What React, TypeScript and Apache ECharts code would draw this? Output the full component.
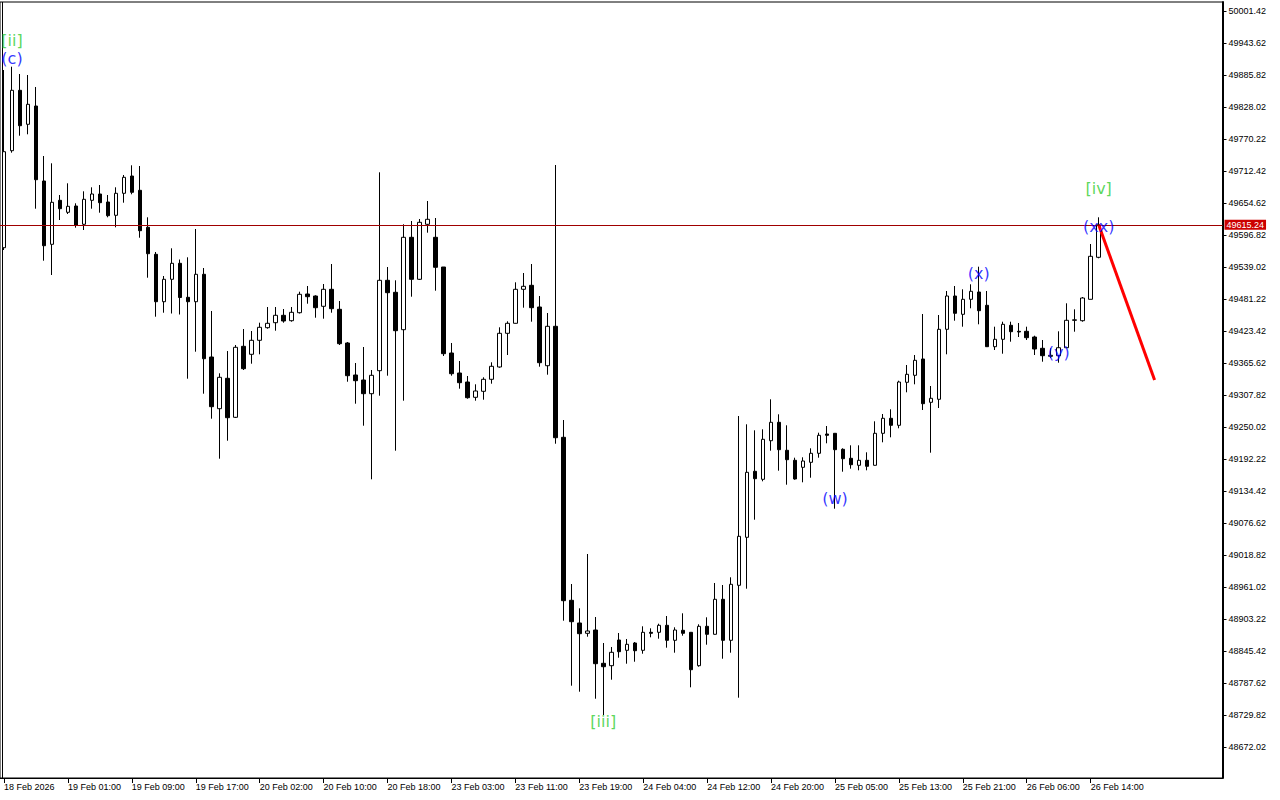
import React, { useEffect, useRef } from "react";
import * as echarts from "echarts";

// Hourly bars, oldest first: open, close, low, high
const OPEN = [
  49573.88, 49749.09, 49858.19, 49796.77, 49829.83, 49694.36, 49580.02, 49659.5, 49637.82, 49649.2,
  49616.15, 49659.5, 49670.88, 49656.43, 49632.4, 49672.14, 49703.39, 49677.56, 49610.73, 49561.96,
  49476.34, 49516.8, 49545.7, 49484.29, 49476.34, 49525.84, 49376.46, 49283.08, 49337.99, 49267.54,
  49395.79, 49381.34, 49406.62, 49429.38, 49438.41, 49451.78, 49442.03, 49456.47, 49490.25, 49486.64,
  49468.04, 49498.74, 49462.62, 49401.75, 49343.95, 49334.91, 49310.17, 49351.71, 49515.0, 49493.32,
  49425.77, 49592.67, 49516.8, 49616.15, 49592.67, 49539.02, 49383.68, 49347.56, 49331.3, 49303.67,
  49314.5, 49336.18, 49358.4, 49419.26, 49437.33, 49498.74, 49505.97, 49466.77, 49360.74, 49431.91,
  49231.42, 48937.0, 48896.0, 48877.39, 48883.35, 48823.2, 48818.87, 48865.29, 48846.68, 48859.87,
  48846.68, 48879.2, 48879.2, 48891.84, 48864.75, 48882.81, 48879.2, 48818.87, 48890.04, 48875.59,
  48938.8, 48864.75, 48964.09, 49050.79, 49170.01, 49155.55, 49225.27, 49258.51, 49207.94, 49189.87,
  49177.23, 49186.26, 49202.52, 49237.38, 49238.64, 49209.74, 49193.49, 49180.84, 49189.87, 49180.84,
  49238.64, 49265.74, 49253.09, 49330.76, 49343.4, 49372.85, 49294.64, 49300.05, 49426.49, 49486.64,
  49453.59, 49480.68, 49493.86, 49469.84, 49395.06, 49408.43, 49433.72, 49422.88, 49422.88, 49412.58,
  49392.17, 49377.72, 49378.81, 49393.25, 49442.75, 49442.03, 49480.68, 49556.54,
];
const CLOSE = [
  49747.28, 49858.19, 49794.24, 49832.9, 49696.71, 49577.49, 49655.89, 49644.33, 49648.66, 49614.88,
  49661.3, 49670.88, 49655.16, 49631.68, 49672.14, 49701.04, 49673.95, 49604.59, 49563.04, 49476.34,
  49516.8, 49545.7, 49483.93, 49476.34, 49525.84, 49373.39, 49286.69, 49339.79, 49266.82, 49393.98,
  49355.33, 49406.62, 49430.1, 49437.33, 49451.78, 49441.48, 49457.2, 49489.71, 49485.38, 49465.51,
  49498.74, 49463.7, 49400.48, 49342.68, 49333.65, 49310.17, 49343.4, 49515.0, 49492.6, 49423.96,
  49592.67, 49516.8, 49619.76, 49625.18, 49538.48, 49382.42, 49346.29, 49330.04, 49302.94, 49315.05,
  49336.18, 49359.66, 49419.26, 49437.33, 49498.74, 49504.16, 49465.51, 49366.16, 49431.91, 49230.69,
  48936.28, 48898.35, 48876.67, 48881.55, 48822.48, 48817.06, 48843.07, 48844.16, 48857.52, 48845.96,
  48879.2, 48877.39, 48891.84, 48864.75, 48883.35, 48877.39, 48811.64, 48890.04, 48875.59, 48938.8,
  48864.75, 48965.9, 49052.6, 49168.2, 49156.64, 49227.8, 49258.51, 49209.02, 49190.96, 49156.1,
  49188.61, 49202.52, 49235.03, 49235.03, 49209.02, 49192.76, 49181.93, 49189.87, 49179.04, 49238.64,
  49265.74, 49253.09, 49331.3, 49345.21, 49370.5, 49292.11, 49301.86, 49426.49, 49486.64, 49455.39,
  49480.68, 49495.13, 49460.09, 49395.06, 49408.43, 49435.52, 49422.16, 49421.61, 49411.32, 49390.91,
  49378.81, 49379.53, 49393.25, 49442.75, 49443.65, 49483.03, 49558.35, 49615.24,
];
const LOW = [
  49569.73, 49745.48, 49776.18, 49778.71, 49644.33, 49550.4, 49524.57, 49623.91, 49634.75, 49610.01,
  49605.85, 49644.33, 49637.1, 49628.79, 49610.73, 49655.16, 49670.34, 49591.94, 49519.69, 49449.25,
  49456.47, 49455.03, 49453.22, 49337.26, 49386.03, 49310.17, 49265.01, 49192.76, 49225.27, 49266.28,
  49352.98, 49364.36, 49381.34, 49427.58, 49423.96, 49438.41, 49440.22, 49455.03, 49472.73, 49447.44,
  49445.64, 49456.47, 49398.13, 49331.84, 49292.11, 49252.37, 49155.55, 49306.56, 49342.68, 49207.21,
  49297.53, 49485.38, 49515.54, 49600.98, 49496.21, 49378.26, 49342.68, 49319.2, 49301.14, 49297.53,
  49299.33, 49328.23, 49357.13, 49380.07, 49436.97, 49465.51, 49440.22, 49358.94, 49344.49, 49219.85,
  48900.15, 48782.75, 48771.91, 48871.25, 48759.26, 48729.82, 48793.58, 48833.32, 48822.48, 48826.09,
  48840.54, 48870.17, 48867.65, 48851.38, 48842.35, 48873.06, 48779.85, 48817.06, 48856.8, 48875.2,
  48831.51, 48842.35, 48761.07, 48957.95, 49082.58, 49151.94, 49207.21, 49171.09, 49145.8, 49154.83,
  49150.14, 49158.44, 49194.57, 49220.58, 49102.45, 49169.28, 49174.7, 49171.81, 49171.81, 49180.5,
  49222.39, 49231.42, 49247.68, 49312.7, 49327.14, 49280.73, 49203.6, 49284.34, 49381.34, 49442.03,
  49431.19, 49464.42, 49435.52, 49394.52, 49389.1, 49382.42, 49404.1, 49412.58, 49407.16, 49380.07,
  49367.97, 49374.65, 49366.16, 49393.25, 49422.16, 49440.22, 49480.68, 49554.74,
];
const HIGH = [
  49894.85, 49900.81, 49887.63, 49885.82, 49864.15, 49739.51, 49726.33, 49669.07, 49690.2, 49654.08,
  49675.75, 49682.98, 49687.13, 49669.07, 49682.98, 49705.2, 49722.72, 49721.45, 49628.79, 49566.11,
  49522.76, 49572.8, 49552.57, 49556.54, 49607.66, 49537.21, 49459.55, 49347.02, 49387.22, 49398.13,
  49427.03, 49423.42, 49438.41, 49466.77, 49466.77, 49463.16, 49466.77, 49494.41, 49504.7, 49487.9,
  49508.31, 49544.44, 49477.61, 49403.55, 49365.62, 49394.52, 49352.98, 49710.07, 49539.02, 49515.0,
  49616.15, 49622.11, 49625.72, 49658.23, 49627.53, 49539.02, 49401.75, 49369.23, 49342.14, 49327.14,
  49339.79, 49366.89, 49430.1, 49440.94, 49511.39, 49528.18, 49544.44, 49486.64, 49455.93, 49723.26,
  49262.66, 48966.44, 48922.55, 49020.63, 48906.83, 48859.87, 48852.65, 48877.93, 48867.1, 48861.68,
  48890.04, 48886.43, 48894.73, 48908.64, 48888.23, 48913.52, 48879.2, 48893.65, 48906.29, 48968.25,
  48964.63, 48978.54, 49269.89, 49254.9, 49244.06, 49245.87, 49300.05, 49272.96, 49253.09, 49194.57,
  49195.29, 49211.55, 49239.73, 49251.83, 49238.64, 49211.55, 49216.97, 49216.97, 49204.33, 49260.32,
  49273.5, 49281.99, 49333.65, 49362.01, 49380.07, 49454.13, 49324.08, 49452.32, 49495.67, 49504.7,
  49498.74, 49507.77, 49539.56, 49495.67, 49431.19, 49440.22, 49440.22, 49437.87, 49431.19, 49414.93,
  49407.16, 49392.17, 49422.88, 49473.45, 49462.62, 49484.83, 49580.56, 49628.79,
];

// Time scale: one label every 8 bars
const TIME_LABELS = [
  "18 Feb 2026", "19 Feb 01:00", "19 Feb 09:00", "19 Feb 17:00", "20 Feb 02:00", "20 Feb 10:00",
  "20 Feb 18:00", "23 Feb 03:00", "23 Feb 11:00", "23 Feb 19:00", "24 Feb 04:00", "24 Feb 12:00",
  "24 Feb 20:00", "25 Feb 05:00", "25 Feb 13:00", "25 Feb 21:00", "26 Feb 06:00", "26 Feb 14:00",
];
const LABEL_STEP = 8;
const SLOT_COUNT = 153; // bar slots including the empty area on the right

// Price scale
const PRICE_TICKS = [
  48672.02, 48729.82, 48787.62, 48845.42, 48903.22, 48961.02, 49018.82, 49076.62, 49134.42, 49192.22,
  49250.02, 49307.82, 49365.62, 49423.42, 49481.22, 49539.02, 49596.82, 49654.62, 49712.42, 49770.22,
  49828.02, 49885.82, 49943.62, 50001.42,
];
const PRICE_MIN = 48616.03;
const PRICE_MAX = 50017.68;
const BID = 49615.24;

// Elliott wave marks
const WAVE_TEXT = ["[ii]", "(c)", "[iii]", "(w)", "(x)", "(y)", "(xx)", "[iv]"];
const WAVE_BAR = [1, 1, 75, 104, 122, 132, 137, 137];
const WAVE_PRICE = [49948.8, 49916.5, 48717.2, 49120.0, 49526.4, 49383.7, 49611.3, 49681.7];
const WAVE_MINOR = [true, false, true, false, false, false, false, true];

// Projected move
const PROJ_BAR = [137, 144];
const PROJ_PRICE = [49615.24, 49334.9];

const MINOR_COLOR = "#32cd32";
const MINUTE_COLOR = "#0000ff";
const AXIS_FONT = "Liberation Sans, Arial, sans-serif";

const categories = Array.from({ length: SLOT_COUNT }, (_, i) =>
  i % LABEL_STEP === 0 && TIME_LABELS[i / LABEL_STEP] ? TIME_LABELS[i / LABEL_STEP] : `bar${i}`
);
const hasTimeLabel = (i: number) => i % LABEL_STEP === 0 && i / LABEL_STEP < TIME_LABELS.length;

export default function App() {
  const ref = useRef<HTMLDivElement>(null);

  useEffect(() => {
    if (!ref.current) return;
    const chart = echarts.init(ref.current, undefined, { renderer: "svg" });

    const candles = OPEN.map((o, i) => [o, CLOSE[i], LOW[i], HIGH[i]]);
    const waves = WAVE_BAR.map((b, i) => ({
      value: [b, WAVE_PRICE[i]],
      label: { color: WAVE_MINOR[i] ? MINOR_COLOR : MINUTE_COLOR },
    }));
    const projection = PROJ_BAR.map((b, i) => [b, PROJ_PRICE[i]]);

    chart.setOption({
      animation: false,
      backgroundColor: "#ffffff",
      grid: {
        left: -1.5,
        right: 57.5,
        top: 2,
        bottom: 22,
        show: true,
        borderColor: "#000",
        borderWidth: 1,
        backgroundColor: "transparent",
      },
      xAxis: {
        type: "category",
        data: categories,
        boundaryGap: true,
        axisLine: { show: true, lineStyle: { color: "#000", width: 1 } },
        axisTick: {
          show: true,
          alignWithLabel: true,
          interval: (i: number) => hasTimeLabel(i),
          length: 5,
          lineStyle: { color: "#000" },
        },
        axisLabel: {
          interval: (i: number) => hasTimeLabel(i),
          align: "left",
          margin: 4,
          fontSize: 9,
          fontFamily: AXIS_FONT,
          color: "#000",
        },
        splitLine: { show: false },
      },
      yAxis: {
        type: "value",
        position: "right",
        min: PRICE_MIN,
        max: PRICE_MAX,
        axisLine: { show: true, lineStyle: { color: "#000", width: 2 } },
        axisTick: { show: true, length: 4, customValues: PRICE_TICKS, lineStyle: { color: "#000" } },
        axisLabel: {
          customValues: PRICE_TICKS,
          formatter: (v: number) => v.toFixed(2),
          margin: 6,
          fontSize: 9,
          fontFamily: AXIS_FONT,
          color: "#000",
        },
        splitLine: { show: false },
      },
      graphic: [
        {
          type: "line",
          shape: { x1: 2.5, y1: 2, x2: 2.5, y2: 778 },
          style: { stroke: "#000", lineWidth: 1 },
          silent: true,
        },
      ],
      series: [
        {
          type: "candlestick",
          data: candles,
          barWidth: 4,
          itemStyle: {
            color: "#ffffff",
            color0: "#000000",
            borderColor: "#000000",
            borderColor0: "#000000",
            borderWidth: 1,
          },
          markLine: {
            silent: true,
            symbol: ["none", "none"],
            data: [{ yAxis: BID }],
            lineStyle: { color: "#a00000", width: 1, type: "solid" },
            label: {
              show: true,
              position: "end",
              distance: 2,
              formatter: () => BID.toFixed(2),
              backgroundColor: "#cc0000",
              color: "#ffffff",
              padding: [1, 2, 0, 2],
              fontSize: 9,
              fontFamily: AXIS_FONT,
            },
          },
          z: 2,
        },
        {
          type: "line",
          data: projection,
          symbol: "none",
          lineStyle: { color: "#ff0000", width: 3 },
          z: 4,
        },
        {
          type: "scatter",
          data: waves,
          symbolSize: 1,
          itemStyle: { color: "rgba(0,0,0,0)" },
          clip: false,
          label: {
            show: true,
            position: "inside",
            formatter: (p: any) => WAVE_TEXT[p.dataIndex],
            fontSize: 16,
            fontFamily: "DejaVu Sans, sans-serif",
          },
          z: 5,
        },
      ],
    });

    return () => chart.dispose();
  }, []);

  return (
    <div
      ref={ref}
      style={{ position: "fixed", left: 0, top: 0, width: 1280, height: 800, background: "#fff" }}
    />
  );
}
